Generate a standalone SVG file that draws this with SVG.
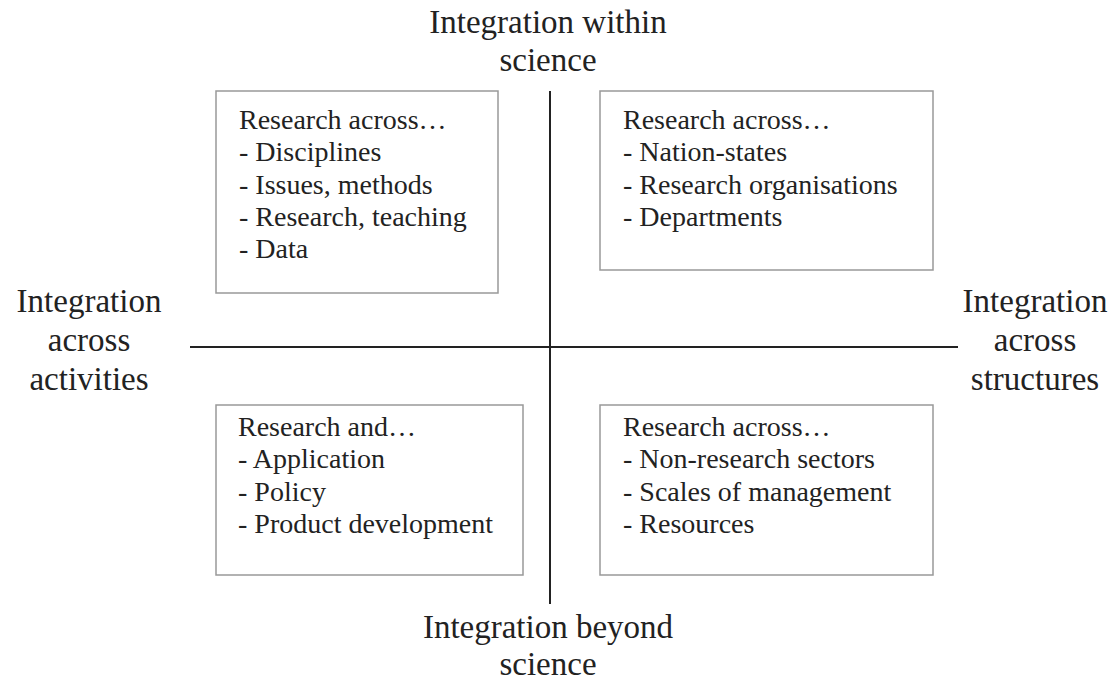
<svg xmlns="http://www.w3.org/2000/svg" width="1113" height="684" viewBox="0 0 1113 684">
<style>
.box{fill:#fff;stroke:#999;stroke-width:1.5}
.axis{stroke:#222;stroke-width:2}
.t{font-size:28px;fill:#222}
.lab{font-size:33px;fill:#222;text-anchor:middle}
</style>
<rect width="1113" height="684" fill="#fff"/>
<g id="connectors">
<line class="axis" x1="550" y1="91" x2="550" y2="604"/>
<line class="axis" x1="190" y1="347" x2="958" y2="347"/>
</g>
<g font-family="'Liberation Serif', Tinos, 'Times New Roman', 'DejaVu Serif', serif">
<g id="label-top"><text class="lab" x="548" y="33">Integration within</text><text class="lab" x="548" y="71">science</text></g>
<g id="label-bottom"><text class="lab" x="548" y="638">Integration beyond</text><text class="lab" x="548" y="675">science</text></g>
<g id="label-left"><text class="lab" x="89" y="312">Integration</text><text class="lab" x="89" y="351">across</text><text class="lab" x="89" y="390">activities</text></g>
<g id="label-right"><text class="lab" x="1035" y="312">Integration</text><text class="lab" x="1035" y="351">across</text><text class="lab" x="1035" y="390">structures</text></g>
<g id="box-tl"><rect class="box" x="216" y="91" width="282" height="202"/>
<text class="t" x="239" y="129">Research across…</text>
<text class="t" x="239" y="161">- Disciplines</text>
<text class="t" x="239" y="194">- Issues, methods</text>
<text class="t" x="239" y="226">- Research, teaching</text>
<text class="t" x="239" y="258">- Data</text></g>
<g id="box-tr"><rect class="box" x="600" y="91" width="333" height="179"/>
<text class="t" x="623" y="129">Research across…</text>
<text class="t" x="623" y="161">- Nation-states</text>
<text class="t" x="623" y="194">- Research organisations</text>
<text class="t" x="623" y="226">- Departments</text></g>
<g id="box-bl"><rect class="box" x="216" y="405" width="307" height="170"/>
<text class="t" x="238" y="436">Research and…</text>
<text class="t" x="238" y="468">- Application</text>
<text class="t" x="238" y="501">- Policy</text>
<text class="t" x="238" y="533">- Product development</text></g>
<g id="box-br"><rect class="box" x="600" y="405" width="333" height="170"/>
<text class="t" x="623" y="436">Research across…</text>
<text class="t" x="623" y="468">- Non-research sectors</text>
<text class="t" x="623" y="501">- Scales of management</text>
<text class="t" x="623" y="533">- Resources</text></g>
</g>
</svg>
